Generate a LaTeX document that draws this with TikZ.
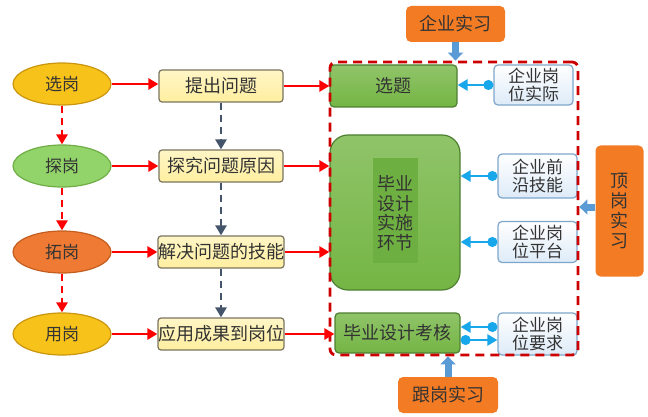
\documentclass[tikz,border=0pt]{standalone}
\usepackage{fontspec}
\setmainfont{Noto Sans CJK SC}
\usetikzlibrary{arrows.meta,shapes.geometric,calc}
\definecolor{cgold}{HTML}{F7C21A}
\definecolor{cgoldd}{HTML}{C9960E}
\definecolor{cgreenl}{HTML}{92D36A}
\definecolor{cgreenld}{HTML}{6FAE47}
\definecolor{corange}{HTML}{EE7A33}
\definecolor{corangd}{HTML}{C45E1E}
\definecolor{cyel}{HTML}{FFEFA0}
\definecolor{cyelb}{HTML}{7A7560}
\definecolor{cgrn}{HTML}{74B544}
\definecolor{cgrnd}{HTML}{4D8030}
\definecolor{cgrnt}{HTML}{6EAF41}
\definecolor{clb}{HTML}{DDEBF8}
\definecolor{clbd}{HTML}{7EA6CC}
\definecolor{cor}{HTML}{F27B24}
\definecolor{ccyan}{HTML}{18A7EA}
\definecolor{cblue}{HTML}{5B9BD5}
\definecolor{cslate}{HTML}{44546A}
\definecolor{cframe}{HTML}{CC0000}
\definecolor{ctext}{HTML}{333333}
\tikzset{
  ell/.style={ellipse, draw, line width=1.2pt, minimum width=98pt, minimum height=42pt, inner sep=0pt, font=\fontsize{17}{19}\selectfont, text=ctext},
  ybox/.style={rectangle, rounded corners=3pt, draw=cyelb, line width=1.2pt, top color=cyel!60!white, bottom color=cyel, minimum width=124pt, minimum height=32pt, inner sep=0pt, font=\fontsize{18}{20}\selectfont, text=ctext},
  gbox/.style={rectangle, draw=cgrnd, line width=1.2pt, top color=cgrn!80!white, bottom color=cgrn, inner sep=0pt, font=\fontsize{18}{20}\selectfont, text=ctext},
  lbox/.style={rectangle, rounded corners=4pt, draw=clbd, line width=1.2pt, top color=white, bottom color=clb, minimum width=79pt, inner sep=0pt, align=center, font=\fontsize{17}{18.5}\selectfont, text=ctext},
  obox/.style={rectangle, rounded corners=5pt, fill=cor, inner sep=0pt, align=center, font=\fontsize{18}{20}\selectfont, text=ctext},
  redarr/.style={draw=red, line width=2.6pt, -{Triangle[length=10pt,width=11pt]}},
  reddash/.style={draw=red, line width=2.6pt, dash pattern=on 7pt off 5pt, -{Triangle[length=10pt,width=11pt]}},
  slatedash/.style={draw=cslate, line width=2.6pt, dash pattern=on 7pt off 5pt, -{Triangle[length=10pt,width=11pt]}},
  cyanarr/.style={draw=ccyan, line width=2.4pt, {Circle[length=10pt,width=10pt]}-{Triangle[length=10pt,width=11pt]}},
  bluearr/.style={draw=cblue, line width=7pt, -{Triangle[length=8pt,width=15pt]}},
}
\begin{document}
\begin{tikzpicture}[x=1pt,y=-1pt]
\useasboundingbox (0,0) rectangle (648,417);
\fill[white] (0,0) rectangle (648,417);
% left ellipses
\node[ell, draw=cgoldd, fill=cgold] (e1) at (62,84) {选岗};
\node[ell, draw=cgreenld, fill=cgreenl] (e2) at (62,166) {探岗};
\node[ell, draw=corangd, fill=corange] (e3) at (62,252) {拓岗};
\node[ell, draw=cgoldd, fill=cgold] (e4) at (62,334) {用岗};
% yellow boxes
\node[ybox] (y1) at (221,86) {提出问题};
\node[ybox] (y2) at (221,166) {探究问题原因};
\node[ybox] (y3) at (221,252) {解决问题的技能};
\node[ybox] (y4) at (221,334) {应用成果到岗位};
% green boxes
\node[gbox, rounded corners=4pt, minimum width=127pt, minimum height=42pt] (g1) at (393.5,86) {选题};
\node[gbox, rounded corners=18pt, minimum width=130pt, minimum height=155pt] (g2) at (395,212.5) {};
\fill[cgrnt] (373,158) rectangle (418,263);
\node[align=center, font=\fontsize{18}{19.5}\selectfont, text=ctext, inner sep=0pt] (g2t) at (395,213) {毕业\\设计\\实施\\环节};
\node[gbox, rounded corners=4pt, minimum width=125pt, minimum height=40pt] (g3) at (397.5,333) {毕业设计考核};
% light blue boxes
\node[lbox, minimum height=40pt] (b1) at (533.5,85) {企业岗\\位实际};
\node[lbox, minimum height=44pt] (b2) at (537.5,176) {企业前\\沿技能};
\node[lbox, minimum height=41pt] (b3) at (537.5,242) {企业岗\\位平台};
\node[lbox, minimum height=42pt] (b4) at (537.5,334) {企业岗\\位要求};
% dashed frame
\node[draw=cframe, line width=2.8pt, dash pattern=on 9pt off 6pt, rounded corners=6pt, minimum width=248pt, minimum height=293pt, inner sep=0pt] (frame) at (454,208.5) {};
% orange boxes
\node[obox, minimum width=99pt, minimum height=36pt] (o1) at (455.5,24) {企业实习};
\node[obox, minimum width=48pt, minimum height=131pt, font=\fontsize{18}{20}\selectfont] (o2) at (619.5,211) {顶\\岗\\实\\习};
\node[obox, minimum width=100pt, minimum height=36pt] (o3) at (448,395) {跟岗实习};
\coordinate (h207) at (0,207);
% red arrows ellipse -> yellow
\draw[redarr] (e1.east) -- (e1.east -| y1.west);
\draw[redarr] (e2.east) -- (e2.east -| y2.west);
\draw[redarr] (e3.east) -- (e3.east -| y3.west);
\draw[redarr] (e4.east) -- (e4.east -| y4.west);
% red dashed ellipse chain
\draw[reddash] (e1.south) -- (e2.north);
\draw[reddash] (e2.south) -- (e3.north);
\draw[reddash] (e3.south) -- (e4.north);
% slate dashed yellow chain
\draw[slatedash] (y1.south) -- (y2.north);
\draw[slatedash] (y2.south) -- (y3.north);
\draw[slatedash] (y3.south) -- (y4.north);
% red arrows yellow -> green
\draw[redarr] (y1.east) -- (y1.east -| g1.west);
\draw[redarr] (y2.east) -- (y2.east -| g2.west);
\draw[redarr] (y3.east) -- (y3.east -| g2.west);
\draw[redarr] (y4.east) -- (y4.east -| g3.west);
% cyan arrows
\draw[cyanarr] (b1.west) -- (b1.west -| g1.east);
\draw[cyanarr] (b2.west) -- (b2.west -| g2.east);
\draw[cyanarr] (b3.west) -- (b3.west -| g2.east);
\draw[cyanarr] ([yshift=7pt]b4.west) -- ([yshift=7pt]b4.west -| g3.east);
\draw[cyanarr] ([yshift=-6pt]b4.west -| g3.east) -- ([yshift=-6pt]b4.west);
% blue thick arrows
\draw[bluearr] (o1.south) -- (o1.south |- frame.north);
\draw[bluearr] (o2.west |- h207) -- (frame.east |- h207);
\draw[bluearr] (o3.north) -- (o3.north |- frame.south);
\end{tikzpicture}
\end{document}
